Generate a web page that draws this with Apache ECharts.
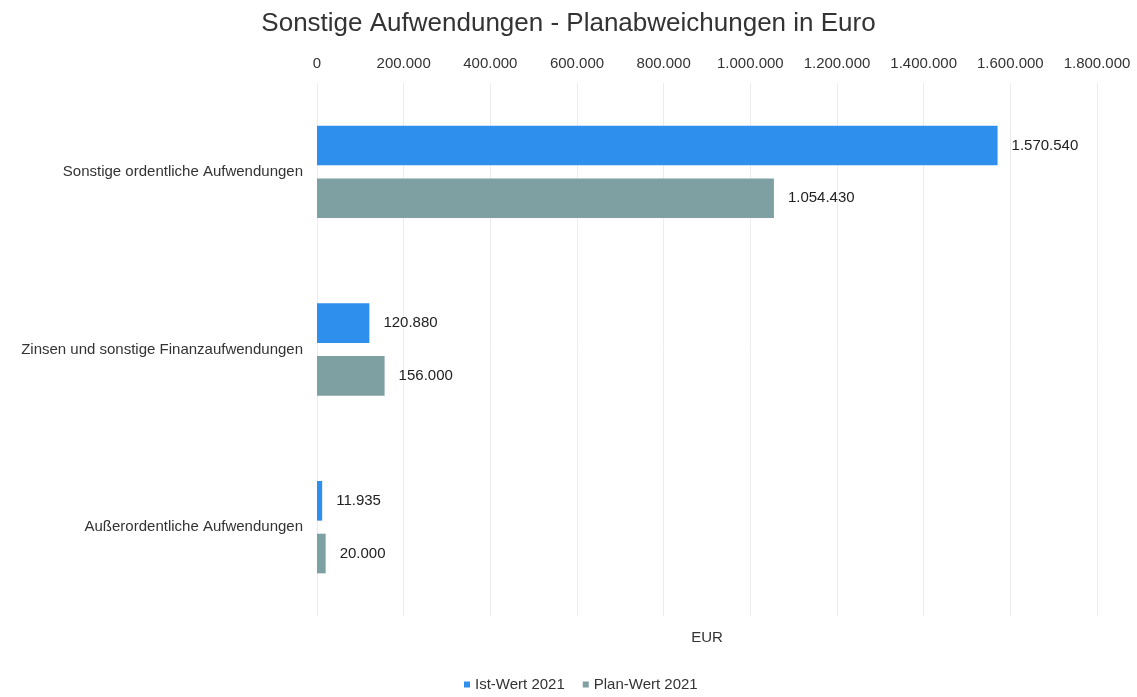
<!DOCTYPE html>
<html>
<head>
<meta charset="utf-8">
<script src="https://cdn.jsdelivr.net/npm/echarts@6/dist/echarts.min.js"></script>
<style>
  html, body { margin: 0; padding: 0; background: #fff; }
  #chart { width: 1137px; height: 697px; }
</style>
</head>
<body>
<div id="chart"></div>
<script>
// Kategorien von oben nach unten
const categories = [
  "Sonstige ordentliche Aufwendungen",
  "Zinsen und sonstige Finanzaufwendungen",
  "Außerordentliche Aufwendungen"
];
const seriesNames = ["Ist-Wert 2021", "Plan-Wert 2021"];
const istWerte = [1570540, 120880, 11935];
const planWerte = [1054430, 156000, 20000];

const fmt = v => v.toLocaleString("de-DE");

let myChart = echarts.init(document.getElementById("chart"));
let option = {
  textStyle: { fontFamily: "'Liberation Sans', Arial, sans-serif" },
  title: {
    text: "Sonstige Aufwendungen - Planabweichungen in Euro",
    left: "center",
    top: 6,
    textStyle: { fontSize: 26, fontWeight: "normal", color: "#333" }
  },
  legend: {
    bottom: 0,
    left: 459,
    itemWidth: 6,
    itemHeight: 6,
    itemGap: 18,
    icon: "rect",
    textStyle: { fontSize: 15, color: "#333" },
    data: seriesNames
  },
  grid: { left: 317, right: 40, top: 83, bottom: 81 },
  xAxis: [
    {
      type: "value",
      position: "top",
      min: 0,
      max: 1800000,
      interval: 200000,
      axisLine: { show: false },
      axisTick: { show: false },
      axisLabel: {
        color: "#333",
        fontSize: 15,
        margin: 12,
        formatter: v => fmt(v)
      },
      splitLine: { lineStyle: { color: "#ececec" } }
    },
    {
      type: "value",
      position: "bottom",
      min: 0,
      max: 1800000,
      name: "EUR",
      nameLocation: "middle",
      nameGap: 14,
      nameTextStyle: { color: "#333", fontSize: 15 },
      axisLine: { show: false },
      axisTick: { show: false },
      axisLabel: { show: false },
      splitLine: { show: false }
    }
  ],
  yAxis: {
    type: "category",
    inverse: true,
    data: categories,
    axisLine: { show: false },
    axisTick: { show: false },
    axisLabel: { color: "#333", fontSize: 15, margin: 14 }
  },
  series: [
    {
      name: seriesNames[0],
      type: "bar",
      data: istWerte,
      itemStyle: { color: "#2f8fec" },
      barGap: "33%",
      barCategoryGap: "48%",
      label: {
        show: true, position: "right", distance: 14,
        color: "#222", fontSize: 15, formatter: p => fmt(p.value)
      }
    },
    {
      name: seriesNames[1],
      type: "bar",
      data: planWerte,
      itemStyle: { color: "#7fa0a3" },
      label: {
        show: true, position: "right", distance: 14,
        color: "#222", fontSize: 15, formatter: p => fmt(p.value)
      }
    }
  ]
};
myChart.setOption(option, true);
window.addEventListener("resize", () => { myChart.resize(); });
</script>
</body>
</html>
